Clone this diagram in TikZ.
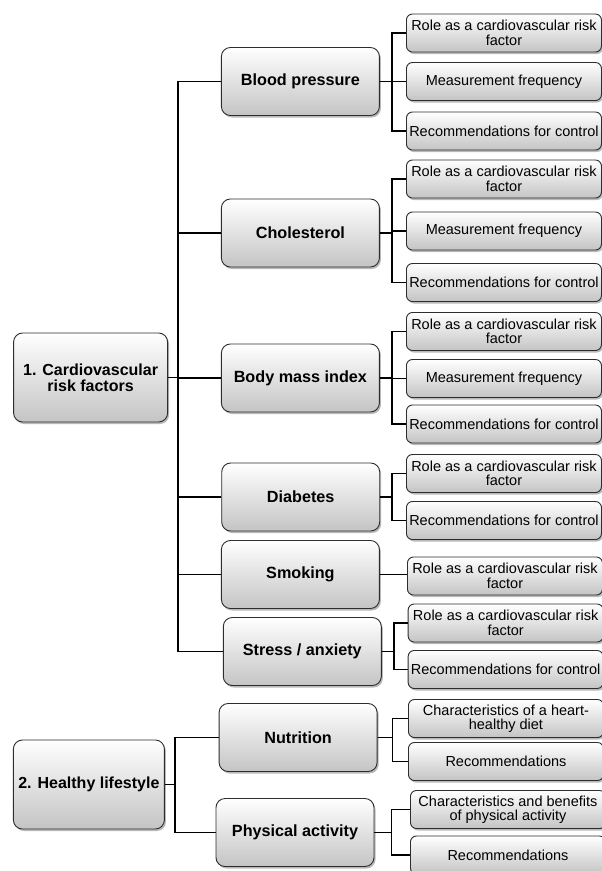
\documentclass[tikz,border=0pt]{standalone}
\usepackage{fontspec}
\setmainfont{Liberation Sans}
\usetikzlibrary{shadows}
\definecolor{boxLine}{RGB}{45,45,45}
\definecolor{boxBottom}{RGB}{196,196,196}
\begin{document}
\begin{tikzpicture}[x=1pt,y=-1pt,
  box/.style={draw=boxLine,line width=0.9pt,rounded corners=9pt,
    top color=white,bottom color=boxBottom,align=center,inner sep=1pt,
    drop shadow={shadow xshift=1.5pt,shadow yshift=-2pt,fill=black!55}},
  rootbox/.style={box,minimum height=89pt,
    font=\fontsize{16}{16}\selectfont\bfseries},
  topicbox/.style={box,minimum width=158pt,minimum height=68pt,
    font=\fontsize{16.2}{16}\selectfont\bfseries},
  itembox/.style={box,rounded corners=6pt,anchor=west,minimum width=195pt,
    minimum height=38pt,font=\fontsize{14.5}{14.5}\selectfont},
  link/.style={draw=black,line width=1.6pt}]
\useasboundingbox (0,0) rectangle (602,871);

\node[rootbox,minimum width=154pt] (cardio) at ( 90.6,377.5) {1. Cardiovascular\\risk factors};
\node[rootbox,minimum width=151pt] (lifestyle) at ( 88.9,784.5) {2. Healthy lifestyle};

\node[topicbox] (pressure) at (300.4, 81.5) {Blood pressure};
\node[topicbox] (cholesterol) at (300.4,233.0) {Cholesterol};
\node[topicbox] (bmi) at (300.4,378.0) {Body mass index};
\node[topicbox] (diabetes) at (300.7,497.0) {Diabetes};
\node[topicbox] (smoking) at (300.4,574.5) {Smoking};
\node[topicbox] (stress) at (302.3,651.5) {Stress / anxiety};
\node[topicbox] (nutrition) at (298.1,737.5) {Nutrition};
\node[topicbox] (activity) at (295.0,832.5) {Physical activity};

\node[itembox] (pressureRole) at (406, 33.0) {Role as a cardiovascular risk\\factor};
\node[itembox] (pressureFreq) at (406, 81.5) {Measurement frequency};
\node[itembox] (pressureRec) at (406,131.0) {Recommendations for control};
\node[itembox] (cholesterolRole) at (406,179.0) {Role as a cardiovascular risk\\factor};
\node[itembox] (cholesterolFreq) at (406,231.0) {Measurement frequency};
\node[itembox] (cholesterolRec) at (406,282.5) {Recommendations for control};
\node[itembox] (bmiRole) at (406,331.5) {Role as a cardiovascular risk\\factor};
\node[itembox] (bmiFreq) at (406,378.5) {Measurement frequency};
\node[itembox] (bmiRec) at (406,424.0) {Recommendations for control};
\node[itembox] (diabetesRole) at (406,473.5) {Role as a cardiovascular risk\\factor};
\node[itembox] (diabetesRec) at (406,520.5) {Recommendations for control};
\node[itembox] (smokingRole) at (407,576.0) {Role as a cardiovascular risk\\factor};
\node[itembox] (stressRole) at (407.7,623.0) {Role as a cardiovascular risk\\factor};
\node[itembox] (stressRec) at (407.7,669.5) {Recommendations for control};
\node[itembox] (nutritionDiet) at (408,718.5) {Characteristics of a heart-\\healthy diet};
\node[itembox] (nutritionRec) at (408,761.5) {Recommendations};
\node[itembox] (activityBenefit) at (410,809.5) {Characteristics and benefits\\of physical activity};
\node[itembox] (activityRec) at (410,855.0) {Recommendations};

\path[link] (cardio.east) -- ++(10,0) |- (pressure.west);
\path[link] (cardio.east) -- ++(10,0) |- (cholesterol.west);
\path[link] (cardio.east) -- ++(10,0) |- (bmi.west);
\path[link] (cardio.east) -- ++(10,0) |- (diabetes.west);
\path[link] (cardio.east) -- ++(10,0) |- (smoking.west);
\path[link] (cardio.east) -- ++(10,0) |- (stress.west);
\path[link] (lifestyle.east) -- ++(10.4,0) |- (nutrition.west);
\path[link] (lifestyle.east) -- ++(10.4,0) |- (activity.west);

\path[link] (pressure.east) -- ++(12.3,0) |- (pressureRole.west);
\path[link] (pressure.east) -- ++(12.3,0) |- (pressureFreq.west);
\path[link] (pressure.east) -- ++(12.3,0) |- (pressureRec.west);
\path[link] (cholesterol.east) -- ++(12.3,0) |- (cholesterolRole.west);
\path[link] (cholesterol.east) -- ++(12.3,0) |- (cholesterolFreq.west);
\path[link] (cholesterol.east) -- ++(12.3,0) |- (cholesterolRec.west);
\path[link] (bmi.east) -- ++(12.3,0) |- (bmiRole.west);
\path[link] (bmi.east) -- ++(12.3,0) |- (bmiFreq.west);
\path[link] (bmi.east) -- ++(12.3,0) |- (bmiRec.west);
\path[link] (diabetes.east) -- ++(12,0) |- (diabetesRole.west);
\path[link] (diabetes.east) -- ++(12,0) |- (diabetesRec.west);
\path[link] (smoking.east) -- (smoking.east -| smokingRole.west);
\path[link] (stress.east) -- ++(12,0) |- (stressRole.west);
\path[link] (stress.east) -- ++(12,0) |- (stressRec.west);
\path[link] (nutrition.east) -- ++(15,0) |- (nutritionDiet.west);
\path[link] (nutrition.east) -- ++(15,0) |- (nutritionRec.west);
\path[link] (activity.east) -- ++(17,0) |- (activityBenefit.west);
\path[link] (activity.east) -- ++(17,0) |- (activityRec.west);
\end{tikzpicture}
\end{document}
